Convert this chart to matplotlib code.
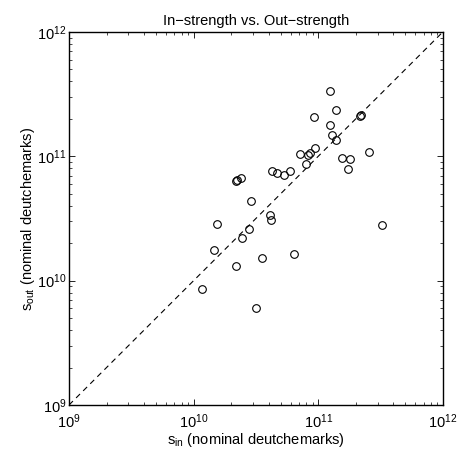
import matplotlib
matplotlib.use("Agg")
import matplotlib.pyplot as plt
import numpy as np
from matplotlib.ticker import LogLocator, NullFormatter

plt.rcParams['font.family'] = ['Liberation Sans', 'DejaVu Sans']
plt.rcParams['mathtext.fontset'] = 'custom'
plt.rcParams['mathtext.rm'] = 'Liberation Sans'
plt.rcParams['mathtext.it'] = 'Liberation Sans'
plt.rcParams['mathtext.default'] = 'regular'

s_in = [1.242e11, 1.387e11, 9.23e10, 2.18e11, 2.22e11, 1.242e11, 1.282e11, 1.387e11,
        9.46e10, 7.19e10, 8.30e10, 8.53e10, 2.57e11, 1.56e11, 1.79e11, 7.94e10,
        1.72e11, 4.29e10, 4.70e10, 5.30e10, 5.93e10, 2.18e10, 2.21e10, 2.38e10,
        2.88e10, 4.07e10, 4.19e10, 1.53e10, 2.79e10, 2.44e10, 3.25e11, 1.47e10,
        6.38e10, 3.51e10, 2.18e10, 1.16e10, 3.16e10]
s_out = [3.38e11, 2.35e11, 2.08e11, 2.10e11, 2.13e11, 1.79e11, 1.476e11, 1.358e11,
         1.164e11, 1.037e11, 1.033e11, 1.057e11, 1.074e11, 9.68e10, 9.55e10, 8.71e10,
         7.87e10, 7.62e10, 7.36e10, 7.01e10, 7.64e10, 6.35e10, 6.45e10, 6.68e10,
         4.35e10, 3.40e10, 3.05e10, 2.88e10, 2.58e10, 2.22e10, 2.80e10, 1.75e10,
         1.64e10, 1.51e10, 1.31e10, 8.49e9, 6.03e9]
diag = [1e9, 1e12]

fig = plt.figure(figsize=(4.57, 4.5), dpi=100)
ax = fig.add_axes([0.151, 0.1, 0.818, 0.829])
ax.plot(diag, diag, 'k--', linewidth=0.8, dashes=(5, 4))
ax.plot(s_in, s_out, 'o', markerfacecolor='none', markeredgecolor='k',
        markersize=5.5, markeredgewidth=0.8)
ax.set_xscale('log')
ax.set_yscale('log')
ax.set_xlim(1e9, 1e12)
ax.set_ylim(1e9, 1e12)
for a in (ax.xaxis, ax.yaxis):
    a.set_minor_locator(LogLocator(base=10, subs=np.arange(2, 10)))
    a.set_minor_formatter(NullFormatter())
ax.tick_params(which='both', direction='in', top=True, right=True, labelsize=10.5)
ax.tick_params(axis='x', pad=5)
ax.tick_params(axis='y', pad=2)
ax.tick_params(which='major', length=4, width=0.6)
ax.tick_params(which='minor', length=2.2, width=0.5)
for sp in ax.spines.values():
    sp.set_linewidth(1.0)
ax.set_title('In\u2212strength vs. Out\u2212strength', fontsize=10.5, pad=5)
ax.set_xlabel('s$_{in}$ (nominal deutchemarks)', fontsize=10.5, labelpad=0)
ax.set_ylabel('s$_{out}$ (nominal deutchemarks)', fontsize=10.5, labelpad=0)
fig.savefig('out.png', dpi=100)
